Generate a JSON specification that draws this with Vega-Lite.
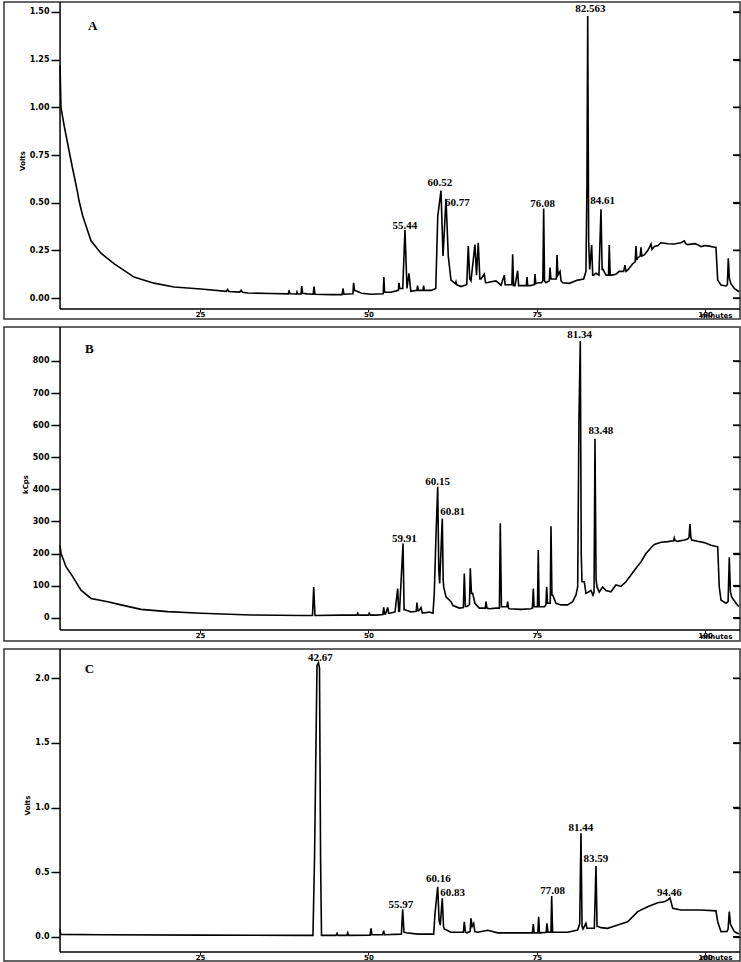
{
  "$schema": "https://vega.github.io/schema/vega-lite/v6.json",
  "background": "white",
  "padding": {"left": 3, "top": 0, "right": 0, "bottom": 0},
  "spacing": 8,
  "bounds": "flush",
  "config": {
    "view": {"stroke": "#333", "strokeWidth": 1.5},
    "axis": {"grid": false, "labelColor": "black", "tickColor": "black", "titleColor": "black", "labelFont": "DejaVu Sans", "titleFont": "DejaVu Sans", "labelFontWeight": "bold", "titleFontWeight": "bold"}
  },
  "datasets": {
    "one": [{"k": 1}],
    "aticks": [{"v": 0}, {"v": 0.25}, {"v": 0.5}, {"v": 0.75}, {"v": 1}, {"v": 1.25}, {"v": 1.5}],
    "bticks": [{"v": 0}, {"v": 100}, {"v": 200}, {"v": 300}, {"v": 400}, {"v": 500}, {"v": 600}, {"v": 700}, {"v": 800}],
    "cticks": [{"v": 0}, {"v": 0.5}, {"v": 1}, {"v": 1.5}, {"v": 2}],
    "a": [
      {"t":4.22,"v":1.22},{"t":4.36,"v":1.0},{"t":4.85,"v":0.9},{"t":5.85,"v":0.72},{"t":6.84,"v":0.55},{"t":7.04,"v":0.51},{"t":7.59,"v":0.43},{"t":8.82,"v":0.3},{"t":10.3,"v":0.235},{"t":12.23,"v":0.18},{"t":15.2,"v":0.11},{"t":18.17,"v":0.078},{"t":21.14,"v":0.058},{"t":25.14,"v":0.047},{"t":28.9,"v":0.035},{"t":29.1,"v":0.045},{"t":29.3,"v":0.034},{"t":30.9,"v":0.031},{"t":31.1,"v":0.04},{"t":31.3,"v":0.03},{"t":32.12,"v":0.026},{"t":35.5,"v":0.024},{"t":38.1,"v":0.022},{"t":38.23,"v":0.04},{"t":38.36,"v":0.022},{"t":39.3,"v":0.021},{"t":39.4,"v":0.032},{"t":39.5,"v":0.021},{"t":40.0,"v":0.021},{"t":40.1,"v":0.063},{"t":40.25,"v":0.025},{"t":40.9,"v":0.022},{"t":41.8,"v":0.02},{"t":41.93,"v":0.06},{"t":42.06,"v":0.02},{"t":44.4,"v":0.018},{"t":46.1,"v":0.018},{"t":46.23,"v":0.05},{"t":46.36,"v":0.02},{"t":47.7,"v":0.022},{"t":47.8,"v":0.08},{"t":47.95,"v":0.04},{"t":48.3,"v":0.035},{"t":49.0,"v":0.025},{"t":50.4,"v":0.02},{"t":52.2,"v":0.022},{"t":52.3,"v":0.11},{"t":52.4,"v":0.03},{"t":53.35,"v":0.03},{"t":54.45,"v":0.04},{"t":54.54,"v":0.08},{"t":54.65,"v":0.05},{"t":55.1,"v":0.05},{"t":55.43,"v":0.357},{"t":55.73,"v":0.05},{"t":56.02,"v":0.13},{"t":56.3,"v":0.035},{"t":57.2,"v":0.04},{"t":57.3,"v":0.065},{"t":57.4,"v":0.04},{"t":58.1,"v":0.04},{"t":58.2,"v":0.065},{"t":58.3,"v":0.04},{"t":59.3,"v":0.04},{"t":60.0,"v":0.05},{"t":60.3,"v":0.43},{"t":60.78,"v":0.563},{"t":61.08,"v":0.22},{"t":61.52,"v":0.52},{"t":61.86,"v":0.22},{"t":62.26,"v":0.094},{"t":62.9,"v":0.075},{"t":63.0,"v":0.085},{"t":63.1,"v":0.07},{"t":63.74,"v":0.06},{"t":64.6,"v":0.07},{"t":64.83,"v":0.273},{"t":65.05,"v":0.1},{"t":65.23,"v":0.09},{"t":65.82,"v":0.28},{"t":66.05,"v":0.12},{"t":66.31,"v":0.29},{"t":66.55,"v":0.1},{"t":66.72,"v":0.1},{"t":67.2,"v":0.125},{"t":67.4,"v":0.08},{"t":67.6,"v":0.08},{"t":68.2,"v":0.085},{"t":68.94,"v":0.09},{"t":69.69,"v":0.068},{"t":70.18,"v":0.12},{"t":70.3,"v":0.07},{"t":70.68,"v":0.07},{"t":71.3,"v":0.07},{"t":71.42,"v":0.23},{"t":71.55,"v":0.065},{"t":71.76,"v":0.065},{"t":72.16,"v":0.143},{"t":72.3,"v":0.065},{"t":72.5,"v":0.065},{"t":73.45,"v":0.065},{"t":73.55,"v":0.11},{"t":73.65,"v":0.065},{"t":74.0,"v":0.065},{"t":74.63,"v":0.07},{"t":74.73,"v":0.126},{"t":74.85,"v":0.075},{"t":75.22,"v":0.08},{"t":75.7,"v":0.08},{"t":75.9,"v":0.09},{"t":76.02,"v":0.47},{"t":76.15,"v":0.09},{"t":76.36,"v":0.08},{"t":76.85,"v":0.09},{"t":76.96,"v":0.16},{"t":77.1,"v":0.1},{"t":77.36,"v":0.1},{"t":77.9,"v":0.1},{"t":78.0,"v":0.225},{"t":78.15,"v":0.12},{"t":78.45,"v":0.14},{"t":78.6,"v":0.09},{"t":78.84,"v":0.08},{"t":79.82,"v":0.077},{"t":81.07,"v":0.094},{"t":81.96,"v":0.1},{"t":82.3,"v":0.14},{"t":82.45,"v":0.6},{"t":82.56,"v":1.479},{"t":82.7,"v":0.3},{"t":82.85,"v":0.15},{"t":83.15,"v":0.278},{"t":83.3,"v":0.12},{"t":83.44,"v":0.12},{"t":83.78,"v":0.13},{"t":84.23,"v":0.12},{"t":84.53,"v":0.465},{"t":84.7,"v":0.15},{"t":84.83,"v":0.15},{"t":85.27,"v":0.12},{"t":85.65,"v":0.12},{"t":85.76,"v":0.278},{"t":85.9,"v":0.12},{"t":86.01,"v":0.12},{"t":86.75,"v":0.125},{"t":87.25,"v":0.14},{"t":87.9,"v":0.14},{"t":88.09,"v":0.173},{"t":88.25,"v":0.14},{"t":88.49,"v":0.146},{"t":89.24,"v":0.18},{"t":89.6,"v":0.19},{"t":89.73,"v":0.273},{"t":89.85,"v":0.2},{"t":89.98,"v":0.21},{"t":90.35,"v":0.22},{"t":90.47,"v":0.266},{"t":90.6,"v":0.22},{"t":90.96,"v":0.226},{"t":91.5,"v":0.25},{"t":91.96,"v":0.283},{"t":92.1,"v":0.255},{"t":92.45,"v":0.27},{"t":93.0,"v":0.275},{"t":93.44,"v":0.29},{"t":94.5,"v":0.285},{"t":95.41,"v":0.283},{"t":96.4,"v":0.29},{"t":96.9,"v":0.3},{"t":97.1,"v":0.285},{"t":97.4,"v":0.28},{"t":98.5,"v":0.285},{"t":98.88,"v":0.28},{"t":99.38,"v":0.27},{"t":100.0,"v":0.275},{"t":100.6,"v":0.272},{"t":101.2,"v":0.268},{"t":101.6,"v":0.265},{"t":101.86,"v":0.094},{"t":102.35,"v":0.068},{"t":103.09,"v":0.063},{"t":103.3,"v":0.07},{"t":103.43,"v":0.208},{"t":103.6,"v":0.1},{"t":103.83,"v":0.075},{"t":104.32,"v":0.05},{"t":105.02,"v":0.033}
    ],
    "b": [
      {"t":4.22,"v":225},{"t":4.36,"v":201},{"t":5.11,"v":159},{"t":6.1,"v":128},{"t":7.33,"v":86},{"t":8.82,"v":60},{"t":11.3,"v":50},{"t":13.27,"v":40},{"t":16.24,"v":26},{"t":20.2,"v":19},{"t":25.15,"v":14},{"t":32.57,"v":8.5},{"t":40.0,"v":7},{"t":41.7,"v":7},{"t":41.88,"v":96},{"t":42.07,"v":7},{"t":45.93,"v":8},{"t":48.3,"v":8},{"t":48.41,"v":14},{"t":48.55,"v":8},{"t":50.0,"v":8},{"t":50.13,"v":14},{"t":50.3,"v":8},{"t":51.13,"v":8},{"t":52.15,"v":10},{"t":52.27,"v":32},{"t":52.4,"v":12},{"t":52.54,"v":12},{"t":52.87,"v":32},{"t":53.0,"v":14},{"t":53.2,"v":14},{"t":53.95,"v":18},{"t":54.35,"v":91},{"t":54.5,"v":20},{"t":54.62,"v":20},{"t":55.14,"v":231.6},{"t":55.3,"v":25},{"t":55.43,"v":25},{"t":56.32,"v":18},{"t":57.1,"v":20},{"t":57.21,"v":47},{"t":57.35,"v":22},{"t":57.51,"v":22},{"t":57.81,"v":32},{"t":58.0,"v":15},{"t":58.26,"v":15},{"t":59.0,"v":18},{"t":59.59,"v":14},{"t":59.78,"v":76},{"t":60.03,"v":252},{"t":60.29,"v":408},{"t":60.45,"v":150},{"t":60.58,"v":107},{"t":60.97,"v":309},{"t":61.1,"v":120},{"t":61.18,"v":96},{"t":61.52,"v":65},{"t":62.26,"v":50},{"t":62.56,"v":38},{"t":63.5,"v":30},{"t":64.1,"v":32},{"t":64.24,"v":138},{"t":64.4,"v":35},{"t":64.64,"v":35},{"t":65.0,"v":40},{"t":65.13,"v":154},{"t":65.3,"v":76},{"t":65.48,"v":76},{"t":65.82,"v":45},{"t":66.46,"v":30},{"t":67.35,"v":30},{"t":67.46,"v":50},{"t":67.6,"v":30},{"t":67.95,"v":28},{"t":68.94,"v":30},{"t":69.45,"v":30},{"t":69.58,"v":294},{"t":69.75,"v":34},{"t":69.94,"v":34},{"t":70.55,"v":34},{"t":70.68,"v":50},{"t":70.8,"v":30},{"t":70.92,"v":28},{"t":72.66,"v":26},{"t":74.14,"v":28},{"t":74.35,"v":30},{"t":74.48,"v":91},{"t":74.6,"v":34},{"t":74.78,"v":34},{"t":75.1,"v":34},{"t":75.22,"v":211},{"t":75.35,"v":34},{"t":75.52,"v":34},{"t":76.12,"v":34},{"t":76.35,"v":40},{"t":76.47,"v":96},{"t":76.6,"v":45},{"t":76.77,"v":45},{"t":77.0,"v":45},{"t":77.11,"v":285},{"t":77.25,"v":71},{"t":77.36,"v":71},{"t":77.85,"v":45},{"t":78.59,"v":40},{"t":79.58,"v":40},{"t":80.33,"v":50},{"t":80.82,"v":71},{"t":81.07,"v":96},{"t":81.26,"v":615},{"t":81.46,"v":862},{"t":81.6,"v":200},{"t":81.71,"v":112},{"t":82.05,"v":112},{"t":82.3,"v":76},{"t":82.65,"v":80},{"t":83.05,"v":85},{"t":83.34,"v":70},{"t":83.5,"v":80},{"t":83.64,"v":558},{"t":83.8,"v":120},{"t":83.94,"v":96},{"t":84.28,"v":80},{"t":84.78,"v":96},{"t":85.27,"v":85},{"t":86.01,"v":81},{"t":86.75,"v":102},{"t":87.49,"v":98},{"t":88.24,"v":112},{"t":88.98,"v":133},{"t":89.73,"v":154},{"t":90.47,"v":174},{"t":91.21,"v":200},{"t":91.96,"v":218},{"t":92.45,"v":228},{"t":93.44,"v":235},{"t":94.43,"v":237},{"t":95.3,"v":240},{"t":95.41,"v":249},{"t":95.55,"v":240},{"t":95.92,"v":238},{"t":96.9,"v":242},{"t":97.4,"v":245},{"t":97.6,"v":250},{"t":97.74,"v":292},{"t":97.88,"v":250},{"t":98.0,"v":242},{"t":98.88,"v":238},{"t":99.87,"v":234},{"t":100.86,"v":226},{"t":101.86,"v":221},{"t":102.09,"v":96},{"t":102.35,"v":55},{"t":103.09,"v":45},{"t":103.4,"v":50},{"t":103.58,"v":188},{"t":103.75,"v":80},{"t":103.93,"v":65},{"t":104.57,"v":45},{"t":105.0,"v":35}
    ],
    "c": [
      {"t":4.22,"v":0.06},{"t":4.3,"v":0.02},{"t":4.36,"v":0.018},{"t":10.3,"v":0.015},{"t":25.1,"v":0.012},{"t":40.0,"v":0.01},{"t":41.77,"v":0.01},{"t":42.0,"v":0.6},{"t":42.37,"v":2.1},{"t":42.59,"v":2.12},{"t":42.74,"v":2.08},{"t":42.9,"v":0.6},{"t":43.04,"v":0.01},{"t":45.2,"v":0.01},{"t":45.34,"v":0.026},{"t":45.48,"v":0.01},{"t":46.8,"v":0.01},{"t":46.93,"v":0.03},{"t":47.06,"v":0.01},{"t":50.25,"v":0.012},{"t":50.39,"v":0.065},{"t":50.53,"v":0.015},{"t":52.13,"v":0.015},{"t":52.27,"v":0.047},{"t":52.41,"v":0.015},{"t":54.9,"v":0.02},{"t":55.09,"v":0.212},{"t":55.28,"v":0.035},{"t":55.58,"v":0.03},{"t":57.32,"v":0.02},{"t":59.69,"v":0.02},{"t":59.89,"v":0.18},{"t":60.29,"v":0.387},{"t":60.5,"v":0.12},{"t":60.67,"v":0.09},{"t":60.97,"v":0.297},{"t":61.15,"v":0.08},{"t":61.27,"v":0.06},{"t":62.26,"v":0.035},{"t":64.1,"v":0.035},{"t":64.24,"v":0.116},{"t":64.4,"v":0.035},{"t":64.64,"v":0.03},{"t":65.1,"v":0.04},{"t":65.23,"v":0.142},{"t":65.4,"v":0.08},{"t":65.63,"v":0.103},{"t":65.8,"v":0.04},{"t":66.22,"v":0.035},{"t":67.71,"v":0.05},{"t":69.19,"v":0.03},{"t":72.65,"v":0.03},{"t":74.35,"v":0.03},{"t":74.48,"v":0.098},{"t":74.6,"v":0.03},{"t":74.78,"v":0.03},{"t":75.15,"v":0.03},{"t":75.28,"v":0.155},{"t":75.4,"v":0.03},{"t":75.52,"v":0.03},{"t":76.4,"v":0.035},{"t":76.51,"v":0.103},{"t":76.65,"v":0.035},{"t":76.77,"v":0.035},{"t":77.1,"v":0.035},{"t":77.21,"v":0.315},{"t":77.35,"v":0.035},{"t":77.51,"v":0.035},{"t":79.59,"v":0.035},{"t":81.07,"v":0.052},{"t":81.37,"v":0.1},{"t":81.56,"v":0.8},{"t":81.72,"v":0.08},{"t":81.86,"v":0.06},{"t":82.3,"v":0.103},{"t":82.45,"v":0.065},{"t":82.65,"v":0.065},{"t":83.54,"v":0.065},{"t":83.79,"v":0.547},{"t":83.95,"v":0.08},{"t":84.04,"v":0.08},{"t":84.53,"v":0.07},{"t":85.52,"v":0.065},{"t":87.01,"v":0.09},{"t":88.49,"v":0.116},{"t":89.98,"v":0.194},{"t":91.46,"v":0.232},{"t":92.95,"v":0.263},{"t":93.93,"v":0.27},{"t":94.43,"v":0.284},{"t":94.78,"v":0.3},{"t":95.18,"v":0.22},{"t":96.41,"v":0.207},{"t":99.38,"v":0.207},{"t":101.6,"v":0.2},{"t":101.86,"v":0.116},{"t":102.35,"v":0.039},{"t":103.24,"v":0.04},{"t":103.4,"v":0.06},{"t":103.58,"v":0.194},{"t":103.75,"v":0.1},{"t":103.83,"v":0.09},{"t":104.32,"v":0.04},{"t":105.0,"v":0.021}
    ],
    "alab": [
      {"t":55.43,"v":0.379,"label":"55.44"},{"t":60.63,"v":0.603,"label":"60.52"},{"t":63.2,"v":0.498,"label":"60.77"},{"t":75.87,"v":0.493,"label":"76.08"},{"t":82.94,"v":1.517,"label":"82.563"},{"t":84.78,"v":0.509,"label":"84.61"}
    ],
    "blab": [
      {"t":55.33,"v":244,"label":"59.91"},{"t":60.29,"v":423,"label":"60.15"},{"t":62.52,"v":328,"label":"60.81"},{"t":81.37,"v":880,"label":"81.34"},{"t":84.53,"v":582,"label":"83.48"}
    ],
    "clab": [
      {"t":42.86,"v":2.155,"label":"42.67"},{"t":54.84,"v":0.245,"label":"55.97"},{"t":60.38,"v":0.444,"label":"60.16"},{"t":62.52,"v":0.336,"label":"60.83"},{"t":77.36,"v":0.356,"label":"77.08"},{"t":81.56,"v":0.839,"label":"81.44"},{"t":83.79,"v":0.599,"label":"83.59"},{"t":94.67,"v":0.341,"label":"94.46"}
    ],
    "aid": [{"t":9.07,"v":1.427,"label":"A"}],
    "bid": [{"t":8.57,"v":836,"label":"B"}],
    "cid": [{"t":8.57,"v":2.072,"label":"C"}]
  },
  "vconcat": [
    {
      "width": 736, "height": 317,
      "resolve": {"axis": {"y": "independent"}},
      "layer": [
        {
          "data": {"name": "a"},
          "mark": {"type": "line", "color": "black", "strokeWidth": 1.6, "clip": true},
          "encoding": {
            "x": {"field": "t", "type": "quantitative", "scale": {"domain": [-4.10, 105.17], "nice": false, "zero": false},
                  "axis": {"values": [25, 50, 75, 100], "format": "d", "offset": -10, "domain": false, "tickSize": 3, "labelFontSize": 7, "labelPadding": -2, "title": "minutes", "titleFontSize": 7, "titleX": 712, "titleY": 2, "titleAlign": "center", "titleBaseline": "top"}},
            "y": {"field": "v", "type": "quantitative", "scale": {"domain": [-0.110, 1.5524], "nice": false, "zero": false},
                  "axis": {"values": [0, 0.25, 0.5, 0.75, 1, 1.25, 1.5], "format": ".2f", "offset": -56, "domain": false, "tickSize": 9, "tickWidth": 1.5, "labelFontSize": 8, "labelPadding": 2, "labelOverlap": false, "title": "Volts", "titleFontSize": 7, "titlePadding": 4}}
          }
        },
        {
          "data": {"name": "one"},
          "mark": {"type": "rule", "color": "black", "strokeWidth": 1.5},
          "encoding": {"x": {"datum": 4.22}, "y": {"datum": -0.0577, "axis": null}, "y2": {"datum": 1.5524}}
        },
        {
          "data": {"name": "one"},
          "mark": {"type": "rule", "color": "black", "strokeWidth": 1.5},
          "encoding": {"x": {"datum": 4.22}, "x2": {"datum": 105.17}, "y": {"datum": -0.0577, "axis": null}}
        },
        {
          "data": {"name": "aticks"},
          "mark": {"type": "rule", "color": "black", "strokeWidth": 1.5},
          "encoding": {"x": {"datum": 104.13}, "x2": {"datum": 105.17}, "y": {"field": "v", "type": "quantitative", "axis": {"orient": "right", "values": [0, 0.25, 0.5, 0.75, 1, 1.25, 1.5], "offset": -7, "domain": false, "labels": false, "tickSize": 7, "tickWidth": 1.3, "title": null}}}
        },
        {
          "data": {"name": "alab"},
          "mark": {"type": "text", "font": "Liberation Serif", "fontSize": 11, "fontWeight": "bold", "baseline": "middle", "align": "center", "color": "black"},
          "encoding": {"x": {"field": "t", "type": "quantitative"}, "y": {"field": "v", "type": "quantitative", "axis": null}, "text": {"field": "label"}}
        },
        {
          "data": {"name": "aid"},
          "mark": {"type": "text", "font": "Liberation Serif", "fontSize": 13, "fontWeight": "bold", "baseline": "middle", "align": "center", "color": "black"},
          "encoding": {"x": {"field": "t", "type": "quantitative"}, "y": {"field": "v", "type": "quantitative", "axis": null}, "text": {"field": "label"}}
        }
      ]
    },
    {
      "width": 736, "height": 314,
      "resolve": {"axis": {"y": "independent"}},
      "layer": [
        {
          "data": {"name": "b"},
          "mark": {"type": "line", "color": "black", "strokeWidth": 1.6, "clip": true},
          "encoding": {
            "x": {"field": "t", "type": "quantitative", "scale": {"domain": [-4.10, 105.17], "nice": false, "zero": false},
                  "axis": {"values": [25, 50, 75, 100], "format": "d", "offset": -11, "domain": false, "tickSize": 3, "labelFontSize": 7, "labelPadding": -2, "title": "minutes", "titleFontSize": 7, "titleX": 712, "titleY": 2, "titleAlign": "center", "titleBaseline": "top"}},
            "y": {"field": "v", "type": "quantitative", "scale": {"domain": [-72.5, 905.8], "nice": false, "zero": false},
                  "axis": {"values": [0, 100, 200, 300, 400, 500, 600, 700, 800], "format": "d", "offset": -56, "domain": false, "tickSize": 9, "tickWidth": 1.5, "labelFontSize": 8, "labelPadding": 2, "labelOverlap": false, "title": "kCps", "titleFontSize": 7, "titlePadding": 4}}
          }
        },
        {
          "data": {"name": "one"},
          "mark": {"type": "rule", "color": "black", "strokeWidth": 1.5},
          "encoding": {"x": {"datum": 4.22}, "y": {"datum": -38.3, "axis": null}, "y2": {"datum": 905.8}}
        },
        {
          "data": {"name": "one"},
          "mark": {"type": "rule", "color": "black", "strokeWidth": 1.5},
          "encoding": {"x": {"datum": 4.22}, "x2": {"datum": 105.17}, "y": {"datum": -38.3, "axis": null}}
        },
        {
          "data": {"name": "bticks"},
          "mark": {"type": "rule", "color": "black", "strokeWidth": 1.5},
          "encoding": {"x": {"datum": 104.13}, "x2": {"datum": 105.17}, "y": {"field": "v", "type": "quantitative", "axis": {"orient": "right", "values": [0, 100, 200, 300, 400, 500, 600, 700, 800], "offset": -7, "domain": false, "labels": false, "tickSize": 7, "tickWidth": 1.3, "title": null}}}
        },
        {
          "data": {"name": "blab"},
          "mark": {"type": "text", "font": "Liberation Serif", "fontSize": 11, "fontWeight": "bold", "baseline": "middle", "align": "center", "color": "black"},
          "encoding": {"x": {"field": "t", "type": "quantitative"}, "y": {"field": "v", "type": "quantitative", "axis": null}, "text": {"field": "label"}}
        },
        {
          "data": {"name": "bid"},
          "mark": {"type": "text", "font": "Liberation Serif", "fontSize": 13, "fontWeight": "bold", "baseline": "middle", "align": "center", "color": "black"},
          "encoding": {"x": {"field": "t", "type": "quantitative"}, "y": {"field": "v", "type": "quantitative", "axis": null}, "text": {"field": "label"}}
        }
      ]
    },
    {
      "width": 736, "height": 312,
      "resolve": {"axis": {"y": "independent"}},
      "layer": [
        {
          "data": {"name": "c"},
          "mark": {"type": "line", "color": "black", "strokeWidth": 1.6, "clip": true},
          "encoding": {
            "x": {"field": "t", "type": "quantitative", "scale": {"domain": [-4.10, 105.17], "nice": false, "zero": false},
                  "axis": {"values": [25, 50, 75, 100], "format": "d", "offset": -9, "domain": false, "tickSize": 3, "labelFontSize": 7, "labelPadding": -2, "title": "minutes", "titleFontSize": 7, "titleX": 712, "titleY": 1, "titleAlign": "center", "titleBaseline": "top"}},
            "y": {"field": "v", "type": "quantitative", "scale": {"domain": [-0.188, 2.227], "nice": false, "zero": false},
                  "axis": {"values": [0, 0.5, 1, 1.5, 2], "format": ".1f", "offset": -56, "domain": false, "tickSize": 9, "tickWidth": 1.5, "labelFontSize": 8, "labelPadding": 2, "labelOverlap": false, "title": "Volts", "titleFontSize": 7, "titlePadding": 4}}
          }
        },
        {
          "data": {"name": "one"},
          "mark": {"type": "rule", "color": "black", "strokeWidth": 1.5},
          "encoding": {"x": {"datum": 4.22}, "y": {"datum": -0.118, "axis": null}, "y2": {"datum": 2.227}}
        },
        {
          "data": {"name": "one"},
          "mark": {"type": "rule", "color": "black", "strokeWidth": 1.5},
          "encoding": {"x": {"datum": 4.22}, "x2": {"datum": 105.17}, "y": {"datum": -0.118, "axis": null}}
        },
        {
          "data": {"name": "cticks"},
          "mark": {"type": "rule", "color": "black", "strokeWidth": 1.5},
          "encoding": {"x": {"datum": 104.13}, "x2": {"datum": 105.17}, "y": {"field": "v", "type": "quantitative", "axis": {"orient": "right", "values": [0, 0.5, 1, 1.5, 2], "offset": -7, "domain": false, "labels": false, "tickSize": 7, "tickWidth": 1.3, "title": null}}}
        },
        {
          "data": {"name": "clab"},
          "mark": {"type": "text", "font": "Liberation Serif", "fontSize": 11, "fontWeight": "bold", "baseline": "middle", "align": "center", "color": "black"},
          "encoding": {"x": {"field": "t", "type": "quantitative"}, "y": {"field": "v", "type": "quantitative", "axis": null}, "text": {"field": "label"}}
        },
        {
          "data": {"name": "cid"},
          "mark": {"type": "text", "font": "Liberation Serif", "fontSize": 13, "fontWeight": "bold", "baseline": "middle", "align": "center", "color": "black"},
          "encoding": {"x": {"field": "t", "type": "quantitative"}, "y": {"field": "v", "type": "quantitative", "axis": null}, "text": {"field": "label"}}
        }
      ]
    }
  ]
}
